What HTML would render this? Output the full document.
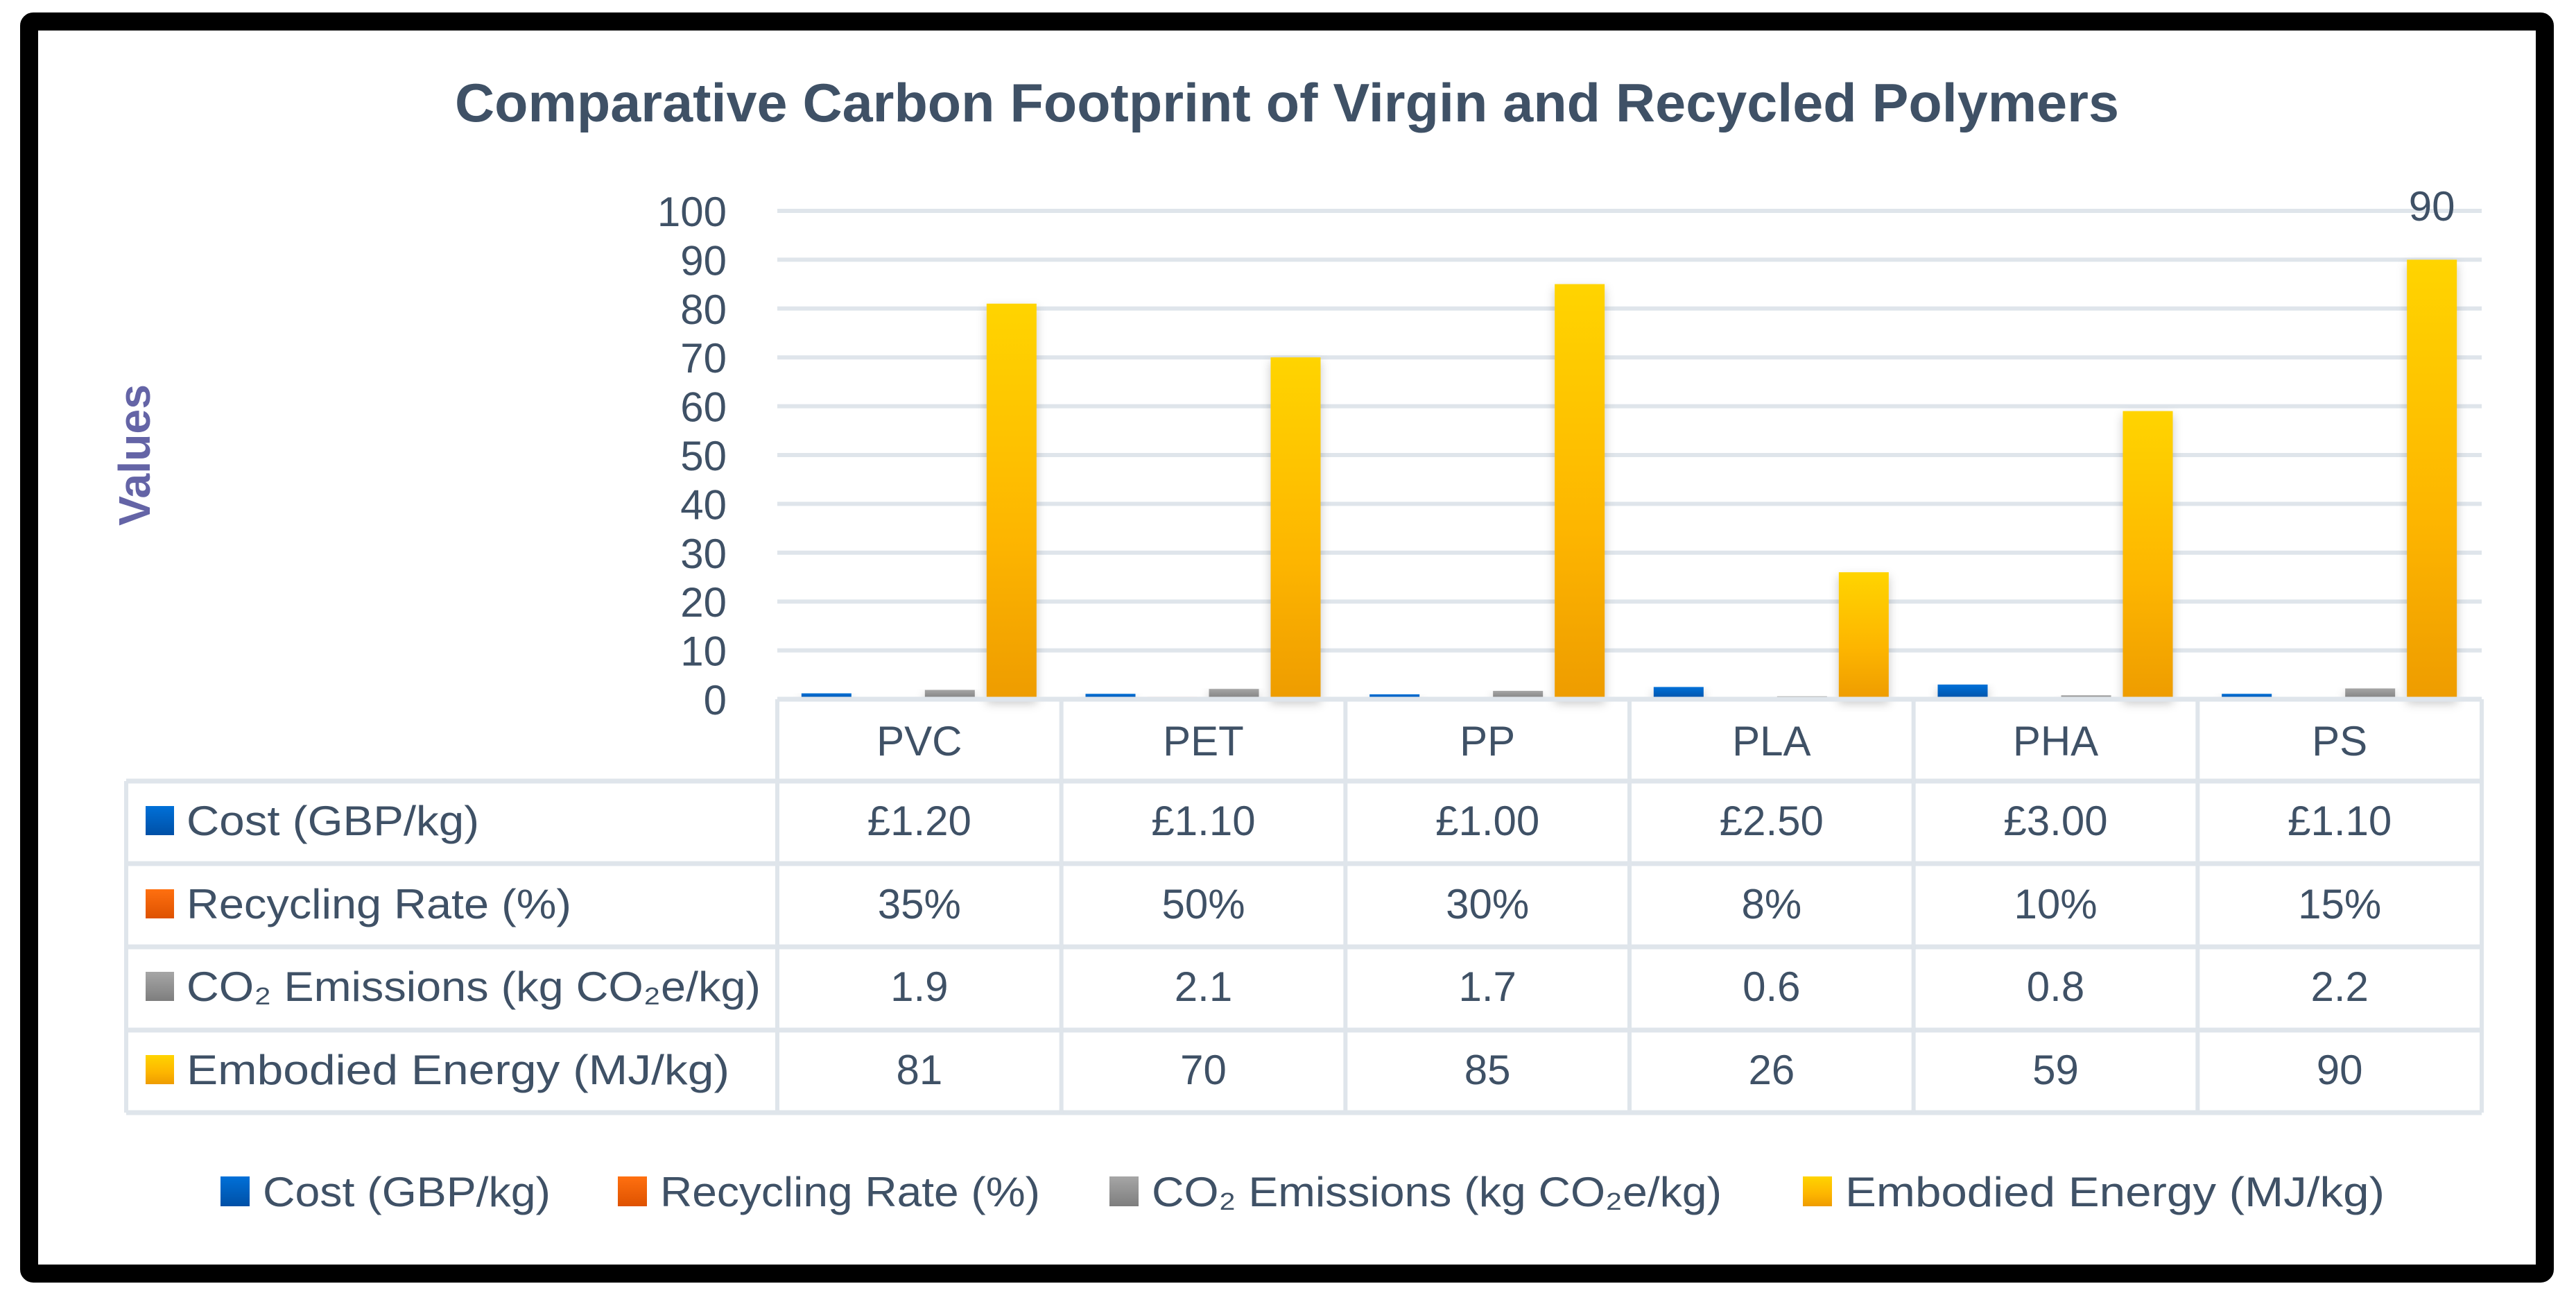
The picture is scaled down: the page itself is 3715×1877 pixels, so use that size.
<!DOCTYPE html>
<html><head><meta charset="utf-8">
<style>
html,body{margin:0;padding:0;background:#fff;}
svg{display:block;}
text{font-family:"Liberation Sans",sans-serif;fill:#3F5166;}
</style></head>
<body>
<svg id="chart" width="3715" height="1877" viewBox="0 0 3715 1877" xmlns="http://www.w3.org/2000/svg">
<defs>
<linearGradient id="g0" x1="0" y1="0" x2="0" y2="1"><stop offset="0" stop-color="#0070D8"/><stop offset="1" stop-color="#0050A6"/></linearGradient>
<linearGradient id="g1" x1="0" y1="0" x2="0" y2="1"><stop offset="0" stop-color="#FF7010"/><stop offset="1" stop-color="#DE5200"/></linearGradient>
<linearGradient id="g2" x1="0" y1="0" x2="0" y2="1"><stop offset="0" stop-color="#A6A6A6"/><stop offset="1" stop-color="#7E7E7E"/></linearGradient>
<linearGradient id="g3" x1="0" y1="0" x2="0" y2="1"><stop offset="0" stop-color="#FFD400"/><stop offset="0.6" stop-color="#FDB500"/><stop offset="1" stop-color="#EE9C00"/></linearGradient>
<filter id="sh" x="-30%" y="-5%" width="160%" height="115%"><feDropShadow dx="0" dy="6" stdDeviation="7" flood-color="#000" flood-opacity="0.22"/></filter>
</defs>
<rect x="42" y="31" width="3628" height="1805" rx="6" fill="none" stroke="#000" stroke-width="26"/>
<text x="1856" y="175" font-size="78" font-weight="bold" text-anchor="middle" textLength="2400" lengthAdjust="spacingAndGlyphs">Comparative Carbon Footprint of Virgin and Recycled Polymers</text>
<text transform="translate(216,656) rotate(-90)" font-size="64" font-weight="bold" text-anchor="middle" style="fill:#6464A6" textLength="204" lengthAdjust="spacingAndGlyphs">Values</text>
<g id="grid"></g><g id="bars"></g><g id="table"></g><g id="legend"></g>
</svg>
<script>
const categories = ["PVC","PET","PP","PLA","PHA","PS"];
const seriesNames = ["Cost (GBP/kg)","Recycling Rate (%)","CO\u2082 Emissions (kg CO\u2082e/kg)","Embodied Energy (MJ/kg)"];
const costValues = [1.2,1.1,1.0,2.5,3.0,1.1];
const recyclingValues = [0.35,0.50,0.30,0.08,0.10,0.15];
const co2Values = [1.9,2.1,1.7,0.6,0.8,2.2];
const energyValues = [81,70,85,26,59,90];
const costLabels = ["£1.20","£1.10","£1.00","£2.50","£3.00","£1.10"];
const recyclingLabels = ["35%","50%","30%","8%","10%","15%"];
const co2Labels = ["1.9","2.1","1.7","0.6","0.8","2.2"];
const energyLabels = ["81","70","85","26","59","90"];
const yTicks = [0,10,20,30,40,50,60,70,80,90,100];

const NS="http://www.w3.org/2000/svg";
const PL=1121, PR=3579, Y0=1008, Y100=304;
const colW=(PR-PL)/categories.length;
function y(v){return Y0-(v/100)*(Y0-Y100);}
function mk(tag,attrs,parent){const e=document.createElementNS(NS,tag);for(const k in attrs)e.setAttribute(k,attrs[k]);parent.appendChild(e);return e;}
const grid=document.getElementById('grid'),bars=document.getElementById('bars'),table=document.getElementById('table'),legend=document.getElementById('legend');
const GC="#DFE5EB";
yTicks.forEach(t=>{
  if(t>0){const l=mk('line',{x1:PL,x2:PR,y1:y(t),y2:y(t),stroke:GC,'stroke-width':6},grid);
  
  }
  const tx=mk('text',{x:1048,y:y(t)+22,'font-size':60,'text-anchor':'end'},grid);
  tx.textContent=String(t);
  
  
});
const allSeries=[costValues,recyclingValues,co2Values,energyValues];
const barW=72, step=89;
allSeries.forEach((vals,s)=>{
  vals.forEach((v,i)=>{
    const cx=PL+colW*(i+0.5);
    const x=cx-170+s*step;
    const r=mk('rect',{x:x,y:y(v),width:barW,height:Y0-y(v),fill:'url(#g'+s+')',filter:'url(#sh)'},bars);
    
    
  });
});
// data label on PS energy
const last=energyValues.length-1;
const dl=mk('text',{x:PL+colW*(last+0.5)-170+3*step+barW/2,y:318,'font-size':60,'text-anchor':'middle'},bars);
dl.textContent=energyLabels[last];


// table
const rowY=[1008,1126,1245,1365,1485,1604];
const TL=182;
const ax=mk('line',{x1:PL,x2:PR,y1:Y0,y2:Y0,stroke:GC,'stroke-width':7},table);


for(let r=1;r<rowY.length;r++){
  const l=mk('line',{x1:TL,x2:PR,y1:rowY[r],y2:rowY[r],stroke:GC,'stroke-width':7},table);
  
  
}
const vl=mk('line',{x1:TL,x2:TL,y1:rowY[1],y2:rowY[5],stroke:GC,'stroke-width':6},table);


for(let c=0;c<=categories.length;c++){
  const l=mk('line',{x1:PL+c*colW,x2:PL+c*colW,y1:Y0,y2:rowY[5],stroke:GC,'stroke-width':6},table);
  
  
}
categories.forEach((c,i)=>{
  const t=mk('text',{x:PL+colW*(i+0.5),y:1089,'font-size':60,'text-anchor':'middle'},table);
  t.textContent=c;
  
  
});
const rowLabels=[costLabels,recyclingLabels,co2Labels,energyLabels];
const labW=[422,555,828,783];
const legW=[415,548,822,778];
const baseY=[1204,1324,1443,1563];
seriesNames.forEach((n,s)=>{
  const sw=mk('rect',{x:210,y:baseY[s]-42,width:41,height:42,fill:'url(#g'+s+')'},table);
  
  
  const t=mk('text',{x:269,y:baseY[s],'font-size':60,textLength:labW[s],lengthAdjust:'spacingAndGlyphs'},table);
  t.textContent=n;
  
  
  rowLabels[s].forEach((v,i)=>{
    const c=mk('text',{x:PL+colW*(i+0.5),y:baseY[s],'font-size':60,'text-anchor':'middle'},table);
    c.textContent=v;
    
    
  });
});
// legend
const legX=[318,891,1600,2600];
seriesNames.forEach((n,s)=>{
  const sw=mk('rect',{x:legX[s],y:1696,width:42,height:43,fill:'url(#g'+s+')'},legend);
  
  
  const t=mk('text',{x:legX[s]+61,y:1739,'font-size':60,textLength:legW[s],lengthAdjust:'spacingAndGlyphs'},legend);
  t.textContent=n;
  
  
});
</script>
</body></html>
